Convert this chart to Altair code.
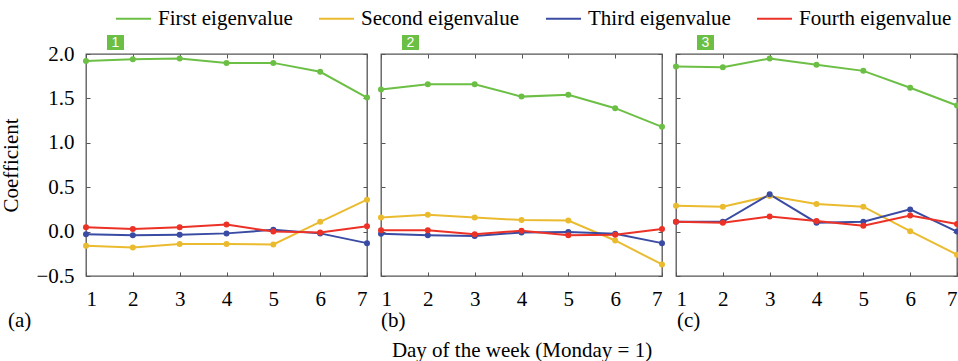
import altair as alt
import pandas as pd

days = [1, 2, 3, 4, 5, 6, 7]
series = ["First eigenvalue", "Second eigenvalue", "Third eigenvalue", "Fourth eigenvalue"]
colors = ["#6cbf45", "#ebbb2f", "#3a4ba3", "#ec3226"]
y_ticks = [-0.5, 0.0, 0.5, 1.0, 1.5, 2.0]

# panel 1
p1_first = [1.92, 1.94, 1.95, 1.90, 1.90, 1.80, 1.51]
p1_second = [-0.16, -0.18, -0.14, -0.14, -0.145, 0.11, 0.36]
p1_third = [-0.03, -0.04, -0.035, -0.02, 0.02, -0.02, -0.13]
p1_fourth = [0.05, 0.03, 0.05, 0.08, 0.0, -0.01, 0.06]
# panel 2
p2_first = [1.60, 1.66, 1.66, 1.52, 1.54, 1.39, 1.18]
p2_second = [0.16, 0.19, 0.16, 0.13, 0.125, -0.10, -0.37]
p2_third = [-0.025, -0.04, -0.05, -0.01, -0.005, -0.025, -0.13]
p2_fourth = [0.015, 0.015, -0.03, 0.01, -0.04, -0.035, 0.03]
# panel 3
p3_first = [1.86, 1.85, 1.95, 1.88, 1.81, 1.62, 1.42]
p3_second = [0.29, 0.28, 0.40, 0.31, 0.28, 0.005, -0.26]
p3_third = [0.11, 0.11, 0.42, 0.10, 0.11, 0.25, 0.0]
p3_fourth = [0.11, 0.10, 0.17, 0.12, 0.065, 0.18, 0.085]

panel_numbers = ["1", "2", "3"]
panel_letters = ["(a)", "(b)", "(c)"]
x_title = "Day of the week (Monday = 1)"
y_title = "Coefficient"

SERIF = "Liberation Serif, Times New Roman, serif"
GREEN = "#6cbf45"
FS = 21

legend = alt.Legend(
    title=None, orient="none", legendX=29, legendY=-54, direction="horizontal",
    columns=4, symbolType="stroke", symbolSize=1225, symbolStrokeWidth=2,
    labelFont=SERIF, labelFontSize=FS, labelColor="black", columnPadding=22,
    labelOffset=6, labelLimit=400,
)

xscale = alt.Scale(domain=[1, 7], nice=False, zero=False)
yscale = alt.Scale(domain=[-0.5, 2.0], nice=False, zero=False)


def make_df(vals):
    rows = []
    for s, v in zip(series, vals):
        for d, y in zip(days, v):
            rows.append({"day": d, "value": y, "series": s})
    return pd.DataFrame(rows)


def panel(idx, vals, show_y, show_xtitle, letter_x):
    df = make_df(vals)
    color = alt.Color("series:N", scale=alt.Scale(domain=series, range=colors), legend=legend)
    common = dict(labelFont=SERIF, labelFontSize=FS, labelColor="black", tickColor="#555",
                  titleFont=SERIF, titleFontSize=FS, titleFontWeight="normal", titleColor="black",
                  domain=False, grid=False, tickSize=4, offset=-4)
    xb_axis = dict(orient="bottom", values=days, labelPadding=12, format="d", **common)
    if show_xtitle:
        xb_axis.update(title=x_title, titlePadding=30)
    else:
        xb_axis.update(title=None)
    yl_axis = dict(orient="left", values=y_ticks, format=".1f", **common)
    if show_y:
        yl_axis.update(labelPadding=12, title=y_title, titlePadding=14)
    else:
        yl_axis.update(labels=False, title=None)

    lines = alt.Chart(df).mark_line(strokeWidth=2).encode(
        x=alt.X("day:Q", scale=xscale, axis=alt.Axis(**xb_axis)),
        y=alt.Y("value:Q", scale=yscale, axis=alt.Axis(**yl_axis)),
        color=color,
        order="day:Q",
    )
    points = alt.Chart(df).mark_circle(size=36, opacity=1).encode(
        x=alt.X("day:Q", scale=xscale, axis=alt.Axis(orient="top", values=days, labels=False,
                                                      title=None, **common)),
        y=alt.Y("value:Q", scale=yscale, axis=alt.Axis(orient="right", values=y_ticks, labels=False,
                                                        title=None, **common)),
        color=color,
    )
    ndf = pd.DataFrame({"n": [panel_numbers[idx]], "t": [panel_letters[idx]]})
    box = alt.Chart(ndf).mark_rect(color=GREEN).encode(
        x=alt.value(21), x2=alt.value(38), y=alt.value(-19), y2=alt.value(-4))
    num = alt.Chart(ndf).mark_text(color="white", font="Liberation Sans", fontSize=14,
                                   baseline="middle", align="center").encode(
        x=alt.value(29.5), y=alt.value(-11), text="n:N")
    let = alt.Chart(ndf).mark_text(font=SERIF, fontSize=FS, align="left", baseline="middle",
                                   color="black").encode(
        x=alt.value(letter_x), y=alt.value(267), text="t:N")
    return alt.layer(lines, points, box, num, let).resolve_axis(
        x="independent", y="independent").properties(width=281, height=222)


p1 = panel(0, [p1_first, p1_second, p1_third, p1_fourth], True, False, -78)
p2 = panel(1, [p2_first, p2_second, p2_third, p2_fourth], False, True, 0)
p3 = panel(2, [p3_first, p3_second, p3_third, p3_fourth], False, False, 1)

chart = alt.hconcat(p1, p2, p3, spacing=14, bounds="flush").properties(
    autosize=alt.AutoSizeParams(type="none"),
    padding={"left": 86, "top": 54, "right": 872, "bottom": 307},
).configure_view(stroke="#555", strokeWidth=1.3)

chart.save("out.html", embed_options={"renderer": "svg", "actions": False})
